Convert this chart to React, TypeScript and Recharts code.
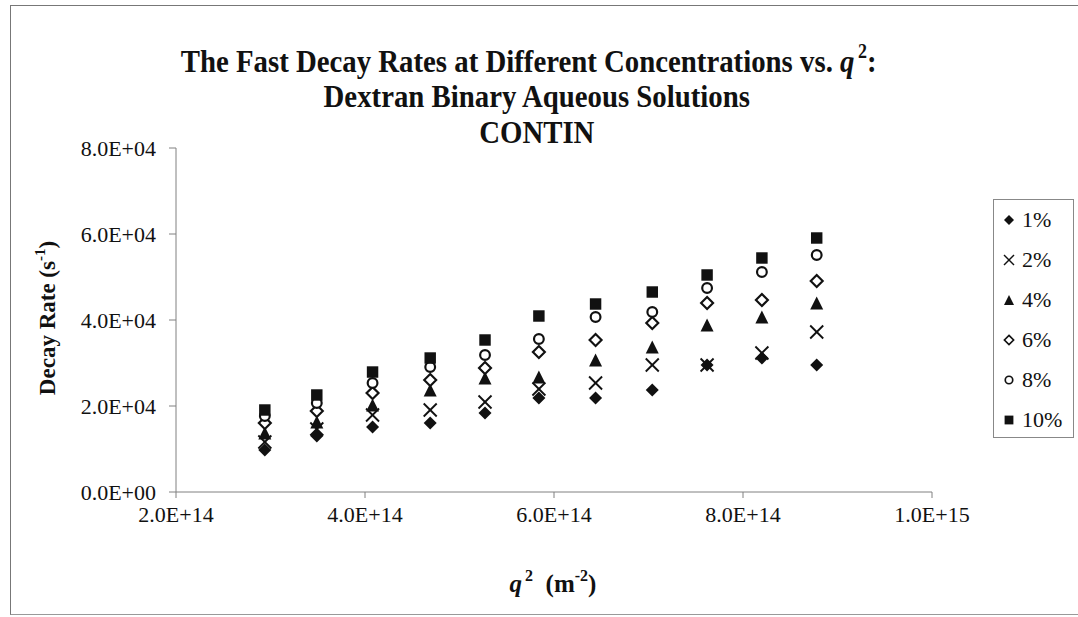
import React from 'react';
import { ScatterChart, Scatter, XAxis, YAxis } from 'recharts';

// q^2 values (m^-2), one per scattering angle
const q2 = [2.94e14, 3.49e14, 4.08e14, 4.69e14, 5.27e14, 5.84e14, 6.44e14, 7.04e14, 7.62e14, 8.2e14, 8.78e14];

// fast decay rates (s^-1) per concentration
const rate1 = [9770, 13020, 15100, 16050, 18370, 21860, 21860, 23720, 29540, 31160, 29540];
const rate2 = [11630, 14650, 17900, 19070, 20930, 23950, 25350, 29540, 29540, 32330, 37210];
const rate4 = [13720, 16280, 20230, 23720, 26510, 26740, 30700, 33720, 38840, 40700, 43950];
const rate6 = [16050, 18840, 23000, 26050, 28840, 32560, 35350, 39300, 43950, 44650, 49070];
const rate8 = [17670, 20700, 25350, 29070, 31860, 35580, 40700, 41860, 47440, 51160, 55120];
const rate10 = [19070, 22560, 27900, 31160, 35350, 40930, 43720, 46510, 50470, 54420, 59070];

const xTicks = [2e14, 4e14, 6e14, 8e14, 1e15];
const yTicks = [0, 20000, 40000, 60000, 80000];

const FONT = '"Liberation Serif", "Times New Roman", serif';
const INK = '#111';

const seriesList = [
  { name: '1%', values: rate1, marker: 'diamond' },
  { name: '2%', values: rate2, marker: 'cross' },
  { name: '4%', values: rate4, marker: 'triangle' },
  { name: '6%', values: rate6, marker: 'diamondOpen' },
  { name: '8%', values: rate8, marker: 'circleOpen' },
  { name: '10%', values: rate10, marker: 'square' },
];

const sci = (v: number) => {
  if (v === 0) return '0.0E+00';
  const exp = Math.floor(Math.log10(v));
  const mant = v / Math.pow(10, exp);
  return `${mant.toFixed(1)}E+${String(exp).padStart(2, '0')}`;
};

const Marker = ({ type, cx, cy, s }: { type: string; cx: number; cy: number; s: number }) => {
  const h = s / 2;
  switch (type) {
    case 'diamond':
      return <polygon points={`${cx},${cy - h} ${cx + h},${cy} ${cx},${cy + h} ${cx - h},${cy}`} fill={INK} />;
    case 'cross':
      return (
        <g stroke={INK} strokeWidth={s / 7}>
          <line x1={cx - h} y1={cy - h} x2={cx + h} y2={cy + h} />
          <line x1={cx - h} y1={cy + h} x2={cx + h} y2={cy - h} />
        </g>
      );
    case 'triangle':
      return <polygon points={`${cx},${cy - h} ${cx + h},${cy + h} ${cx - h},${cy + h}`} fill={INK} />;
    case 'diamondOpen': {
      const r = h * 0.92;
      return (
        <polygon
          points={`${cx},${cy - r} ${cx + r},${cy} ${cx},${cy + r} ${cx - r},${cy}`}
          fill="#fff"
          stroke={INK}
          strokeWidth={s / 6}
        />
      );
    }
    case 'circleOpen':
      return <circle cx={cx} cy={cy} r={h * 0.75} fill="#fff" stroke={INK} strokeWidth={s / 6} />;
    default:
      return <rect x={cx - h * 0.88} y={cy - h * 0.88} width={h * 1.76} height={h * 1.76} fill={INK} />;
  }
};

const LegendBox = () => (
  <div
    style={{
      position: 'absolute',
      left: 993,
      top: 199,
      border: '1px solid #888',
      width: 81,
      height: 239,
      boxSizing: 'border-box',
      background: '#fff',
    }}
  >
    {seriesList.map((s) => (
      <div key={s.name} style={{ display: 'flex', alignItems: 'center', height: 40 }}>
        <svg width={28} height={20} style={{ flex: 'none' }}>
          <Marker type={s.marker} cx={15} cy={10} s={10} />
        </svg>
        <span style={{ fontFamily: FONT, fontSize: 22, color: INK }}>{s.name}</span>
      </div>
    ))}
  </div>
);

// condensed title look: shrink horizontally around the centre line
const squeeze = (cx: number, k: number) => `translate(${cx},0) scale(${k},1) translate(${-cx},0)`;

export default function App() {
  return (
    <div style={{ position: 'absolute', left: 0, top: 0, width: 1078, height: 617, background: '#fff' }}>
      <div
        style={{
          position: 'absolute',
          left: 10,
          top: 5,
          width: 1078,
          height: 608,
          borderLeft: '1px solid #777',
          borderTop: '1px solid #777',
          borderBottom: '1px solid #999',
        }}
      />
      <ScatterChart width={1078} height={617} margin={{ top: 148, right: 146, bottom: 95, left: 96 }}>
        <XAxis
          type="number"
          dataKey="x"
          domain={[2e14, 1e15]}
          ticks={xTicks}
          tickFormatter={sci}
          height={30}
          stroke="#808080"
          tickSize={6}
          tickMargin={8}
          tick={{ fill: INK, fontSize: 22, fontFamily: FONT }}
          allowDataOverflow
        />
        <YAxis
          type="number"
          dataKey="y"
          domain={[0, 80000]}
          ticks={yTicks}
          tickFormatter={sci}
          width={80}
          stroke="#808080"
          tickSize={7}
          tickMargin={13}
          tick={{ fill: INK, fontSize: 22, fontFamily: FONT }}
        />
        {seriesList.map((s) => (
          <Scatter
            key={s.name}
            name={s.name}
            data={q2.map((x, i) => ({ x, y: s.values[i] }))}
            isAnimationActive={false}
            shape={(p: any) => <Marker type={s.marker} cx={p.cx} cy={p.cy} s={13} />}
          />
        ))}
      </ScatterChart>
      <LegendBox />
      <svg
        width={1078}
        height={617}
        style={{ position: 'absolute', left: 0, top: 0, pointerEvents: 'none' }}
        fontFamily={FONT}
        fill={INK}
      >
        <g transform={squeeze(535, 0.9)} fontSize={32} fontWeight="bold" textAnchor="middle">
          <text x={528} y={72}>
            The Fast Decay Rates at Different Concentrations vs.{' '}
            <tspan fontStyle="italic">q</tspan>
            <tspan dx={4} dy={-14} fontSize={20}>2</tspan>
            <tspan dy={14}>:</tspan>
          </text>
          <text x={537} y={107}>Dextran Binary Aqueous Solutions</text>
          <text x={537} y={143}>CONTIN</text>
        </g>
        <text
          x={0}
          y={0}
          transform="translate(55,318) rotate(-90)"
          textAnchor="middle"
          fontSize={23}
          fontWeight="bold"
        >
          Decay Rate (s
          <tspan dy={-10} fontSize={15}>-1</tspan>
          <tspan dy={10}>)</tspan>
        </text>
        <text x={553} y={592} textAnchor="middle" fontSize={25} fontWeight="bold">
          <tspan fontStyle="italic">q</tspan>
          <tspan dx={3} dy={-11} fontSize={16}>2</tspan>
          <tspan dy={11}>{'\u00a0\u00a0(m'}</tspan>
          <tspan dy={-11} fontSize={16}>-2</tspan>
          <tspan dy={11}>)</tspan>
        </text>
      </svg>
    </div>
  );
}
